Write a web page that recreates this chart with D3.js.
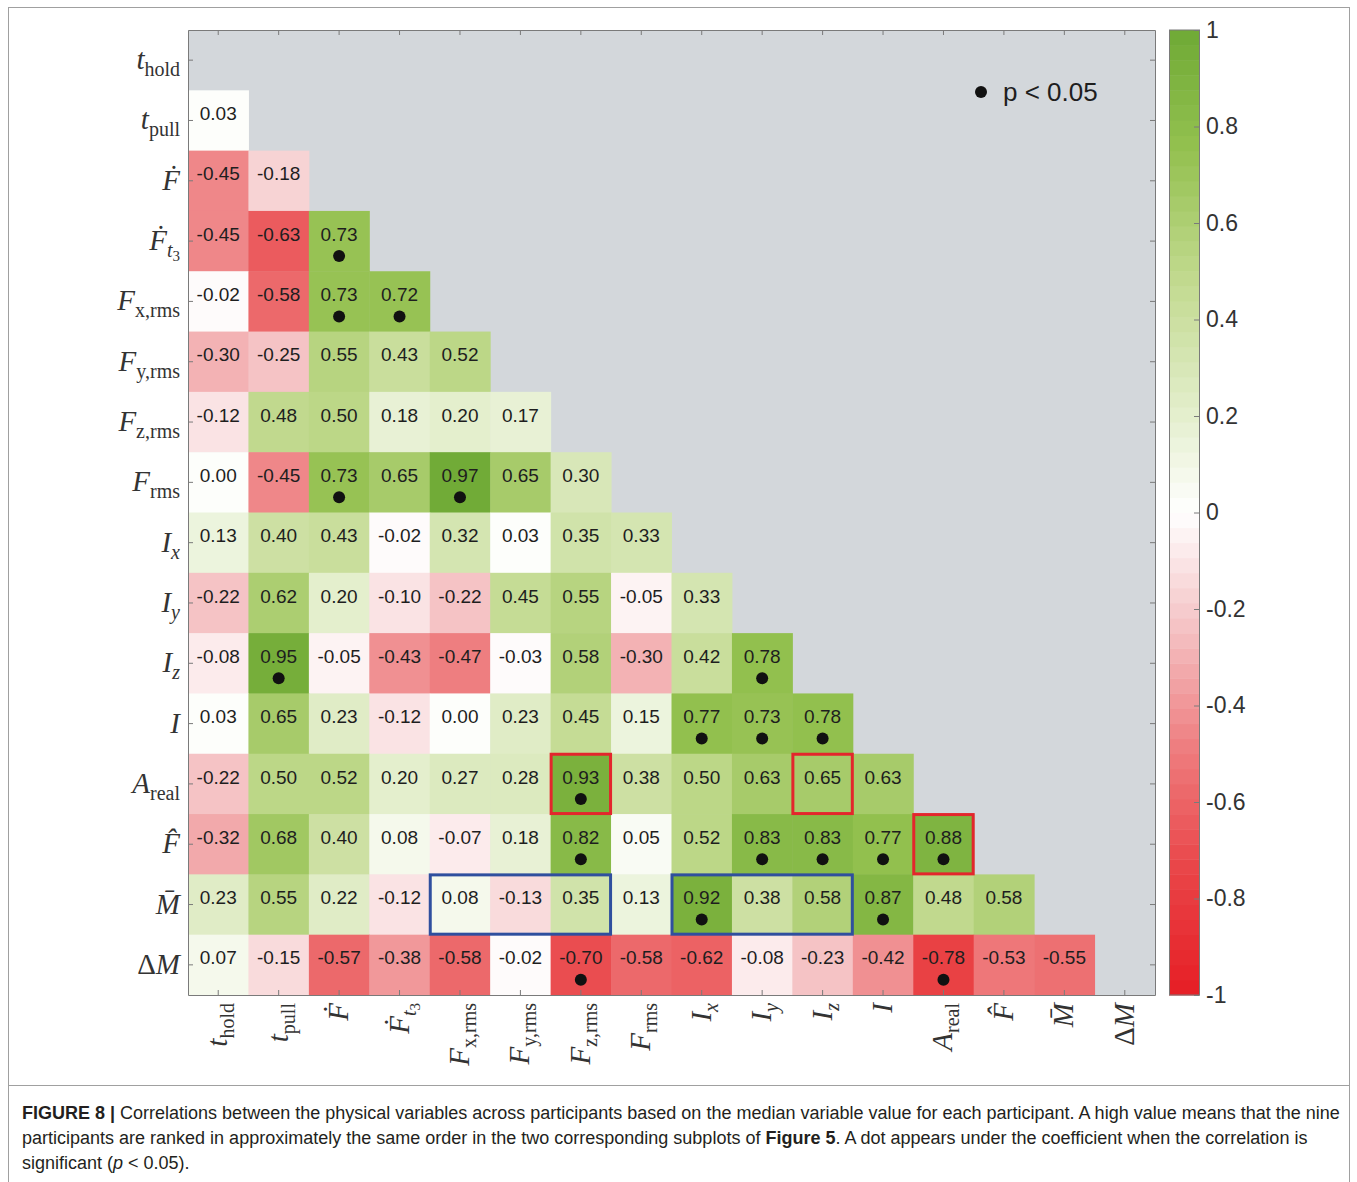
<!DOCTYPE html>
<html>
<head>
<meta charset="utf-8">
<script src="https://cdn.jsdelivr.net/npm/d3@7"></script>
<style>
  body { margin: 0; background: #fff; }
</style>
</head>
<body>
<div id="chart"></div>
<script>
// variable names, rows and columns share the same order
// b = main letter, acc = combining accent, sub = subscript
var varLabels = [
  {b: "t", sub: "hold"},
  {b: "t", sub: "pull"},
  {b: "F", acc: "\u0307"},
  {b: "F", acc: "\u0307", sub: "t", subItal: true, subsub: "3"},
  {b: "F", sub: "x,rms"},
  {b: "F", sub: "y,rms"},
  {b: "F", sub: "z,rms"},
  {b: "F", sub: "rms"},
  {b: "I", sub: "x", subItal: true},
  {b: "I", sub: "y", subItal: true},
  {b: "I", sub: "z", subItal: true},
  {b: "I"},
  {b: "A", sub: "real"},
  {b: "F", acc: "\u0302"},
  {b: "M", acc: "\u0304"},
  {pre: "\u0394", b: "M"}
];

// lower triangle of the correlation matrix (row i has i values)
var corrRows = [
  [],
  [0.03],
  [-0.45, -0.18],
  [-0.45, -0.63, 0.73],
  [-0.02, -0.58, 0.73, 0.72],
  [-0.30, -0.25, 0.55, 0.43, 0.52],
  [-0.12, 0.48, 0.50, 0.18, 0.20, 0.17],
  [0.00, -0.45, 0.73, 0.65, 0.97, 0.65, 0.30],
  [0.13, 0.40, 0.43, -0.02, 0.32, 0.03, 0.35, 0.33],
  [-0.22, 0.62, 0.20, -0.10, -0.22, 0.45, 0.55, -0.05, 0.33],
  [-0.08, 0.95, -0.05, -0.43, -0.47, -0.03, 0.58, -0.30, 0.42, 0.78],
  [0.03, 0.65, 0.23, -0.12, 0.00, 0.23, 0.45, 0.15, 0.77, 0.73, 0.78],
  [-0.22, 0.50, 0.52, 0.20, 0.27, 0.28, 0.93, 0.38, 0.50, 0.63, 0.65, 0.63],
  [-0.32, 0.68, 0.40, 0.08, -0.07, 0.18, 0.82, 0.05, 0.52, 0.83, 0.83, 0.77, 0.88],
  [0.23, 0.55, 0.22, -0.12, 0.08, -0.13, 0.35, 0.13, 0.92, 0.38, 0.58, 0.87, 0.48, 0.58],
  [0.07, -0.15, -0.57, -0.38, -0.58, -0.02, -0.70, -0.58, -0.62, -0.08, -0.23, -0.42, -0.78, -0.53, -0.55]
];

// cells with p < 0.05  [row, col]
var sigCells = [[3,2],[4,2],[4,3],[7,2],[7,4],[10,1],[10,9],[11,8],[11,9],[11,10],
  [12,6],[13,6],[13,9],[13,10],[13,11],[13,12],[14,8],[14,11],[15,6],[15,12]];

// highlighted groups [row, first col, last col]
var redBoxes = [[12,6,6],[12,10,10],[13,12,12]];
var blueBoxes = [[14,4,6],[14,8,10]];

var cbTicks = [1, 0.8, 0.6, 0.4, 0.2, 0, -0.2, -0.4, -0.6, -0.8, -1];

var W = 1357, H = 1182;
var svg = d3.select("#chart").append("svg")
  .attr("width", W).attr("height", H)
  .style("font-family", "'Liberation Sans', Arial, Helvetica, sans-serif");

// ---- colour map (64 steps like matlab) ----
var negColor = d3.scaleLinear().domain([-1, -0.75, -0.5, -0.25, 0])
  .range(["#e61e25", "#e94346", "#ee7a7c", "#f4bfc1", "#ffffff"]);
var posColor = d3.scaleLinear().domain([0, 0.25, 0.5, 0.75, 1])
  .range(["#ffffff", "#deebc2", "#bfd88b", "#94c150", "#6faa35"]);
var nSteps = 64;
function cmap(v) {
  var k = Math.max(0, Math.min(nSteps - 1, Math.floor((v + 1) / 2 * nSteps)));
  var c = -1 + (k + 0.5) * 2 / nSteps;
  return c < 0 ? negColor(c) : posColor(c);
}

// ---- scales ----
var idx = d3.range(varLabels.length);
var x = d3.scaleBand().domain(idx).range([188, 1155]);
var y = d3.scaleBand().domain(idx).range([30, 995]);
var bw = x.bandwidth(), bh = y.bandwidth();

// figure frame
svg.append("rect").attr("x", 8.5).attr("y", 7.5).attr("width", 1341).attr("height", 1200)
  .attr("fill", "none").attr("stroke", "#a0a0a0");
svg.append("line").attr("x1", 8).attr("x2", 1350).attr("y1", 1085.5).attr("y2", 1085.5)
  .attr("stroke", "#a0a0a0");

// plot background
svg.append("rect").attr("x", 188).attr("y", 30).attr("width", 1155 - 188).attr("height", 995 - 30)
  .attr("fill", "#d3d7db");

// flatten cells
var cells = [];
corrRows.forEach(function(row, i) {
  row.forEach(function(v, j) { cells.push({r: i, c: j, v: v}); });
});
var sigSet = {};
sigCells.forEach(function(s) { sigSet[s[0] + "_" + s[1]] = true; });

svg.append("g").selectAll("rect")
  .data(cells).enter().append("rect")
    .attr("x", function(d) { return x(d.c); })
    .attr("y", function(d) { return y(d.r); })
    .attr("width", bw + 0.5)
    .attr("height", bh + 0.5)
    .attr("fill", function(d) { return cmap(d.v); });

svg.append("g").selectAll("text")
  .data(cells).enter().append("text")
    .attr("x", function(d) { return x(d.c) + bw / 2; })
    .attr("y", function(d) { return y(d.r) + bh / 2 - 7; })
    .attr("dy", "0.35em")
    .attr("text-anchor", "middle")
    .attr("font-size", 19)
    .attr("fill", "#1e1e1e")
    .text(function(d) { return d.v.toFixed(2); });

svg.append("g").selectAll("circle")
  .data(cells.filter(function(d) { return sigSet[d.r + "_" + d.c]; }))
  .enter().append("circle")
    .attr("cx", function(d) { return x(d.c) + bw / 2; })
    .attr("cy", function(d) { return y(d.r) + bh / 2 + 15; })
    .attr("r", 6)
    .attr("fill", "#111");

// boxes
function drawBoxes(list, col) {
  svg.append("g").selectAll("rect")
    .data(list).enter().append("rect")
      .attr("x", function(d) { return x(d[1]) + 0.5; })
      .attr("y", function(d) { return y(d[0]) + 0.5; })
      .attr("width", function(d) { return x(d[2]) + bw - x(d[1]) - 1; })
      .attr("height", bh - 1)
      .attr("fill", "none")
      .attr("stroke", col)
      .attr("stroke-width", 3);
}
drawBoxes(redBoxes, "#e3262c");
drawBoxes(blueBoxes, "#2f4f9e");

// axes: ticks pointing inward on all four sides
function styleAxis(g) {
  g.selectAll("path,line").attr("stroke", "#7a7a7a");
}
svg.append("g").attr("transform", "translate(188,0)")
  .call(d3.axisLeft(y).tickSize(-5).tickSizeOuter(0).tickFormat("")).call(styleAxis);
svg.append("g").attr("transform", "translate(1155,0)")
  .call(d3.axisRight(y).tickSize(-5).tickSizeOuter(0).tickFormat("")).call(styleAxis);
svg.append("g").attr("transform", "translate(0,30)")
  .call(d3.axisTop(x).tickSize(-5).tickSizeOuter(0).tickFormat("")).call(styleAxis);
svg.append("g").attr("transform", "translate(0,995)")
  .call(d3.axisBottom(x).tickSize(-5).tickSizeOuter(0).tickFormat("")).call(styleAxis);

// latex-like labels
function mathLabel(t, d) {
  t.attr("font-family", "'Liberation Serif', 'DejaVu Serif', serif")
    .attr("font-size", 29).attr("fill", "#333");
  if (d.pre) t.append("tspan").text(d.pre);
  t.append("tspan").attr("font-style", "italic").text(d.b + (d.acc || ""));
  if (d.sub) {
    t.append("tspan").attr("font-size", 20).attr("dy", 7)
      .attr("font-style", d.subItal ? "italic" : "normal").text(d.sub);
    if (d.subsub) t.append("tspan").attr("font-size", 15).attr("dy", 4).text(d.subsub);
  }
}

svg.append("g").selectAll("text")
  .data(varLabels).enter().append("text")
    .attr("x", 180)
    .attr("y", function(d, i) { return y(i) + bh / 2 + 9; })
    .attr("text-anchor", "end")
    .each(function(d) { mathLabel(d3.select(this), d); });

svg.append("g").selectAll("g")
  .data(varLabels).enter().append("g")
    .attr("transform", function(d, i) { return "translate(" + (x(i) + bw / 2 + 9) + ",1003) rotate(-90)"; })
  .append("text")
    .attr("text-anchor", "end")
    .each(function(d) { mathLabel(d3.select(this), d); });

// legend
svg.append("circle").attr("cx", 981).attr("cy", 92).attr("r", 6).attr("fill", "#111");
svg.append("text").attr("x", 1003).attr("y", 101).attr("font-size", 26).attr("fill", "#1e1e1e")
  .text("p < 0.05");

// ---- colour bar ----
var cbX = 1169, cbW = 30;
var cbScale = d3.scaleLinear().domain([-1, 1]).range([995, 30]);
var steps = d3.range(nSteps).map(function(k) { return -1 + k * 2 / nSteps; });
svg.append("g").selectAll("rect")
  .data(steps).enter().append("rect")
    .attr("x", cbX)
    .attr("y", function(d) { return cbScale(d + 2 / nSteps); })
    .attr("width", cbW)
    .attr("height", cbScale(-1) - cbScale(-1 + 2 / nSteps) + 0.5)
    .attr("fill", function(d) { return cmap(d + 1 / nSteps); });
svg.append("g").attr("transform", "translate(" + (cbX + cbW) + ",0)")
  .call(d3.axisRight(cbScale).tickValues(cbTicks).tickSize(-5).tickSizeOuter(0)
    .tickFormat(function(d) { return d3.format("")(d).replace("\u2212", "-"); }))
  .call(function(g) {
    g.selectAll("path,line").attr("stroke", "#7a7a7a");
    g.selectAll("text").attr("x", 7).attr("font-size", 23).attr("fill", "#333")
      .attr("font-family", "'Liberation Sans', Arial, sans-serif");
  });
svg.append("rect").attr("x", cbX + 0.5).attr("y", 30).attr("width", cbW).attr("height", 965)
  .attr("fill", "none").attr("stroke", "#7a7a7a");

// ---- caption ----
var capLines = [
  [{t: "FIGURE 8 | ", b: true}, {t: "Correlations between the physical variables across participants based on the median variable value for each participant. A high value means that the nine"}],
  [{t: "participants are ranked in approximately the same order in the two corresponding subplots of "}, {t: "Figure 5", b: true}, {t: ". A dot appears under the coefficient when the correlation is"}],
  [{t: "significant ("}, {t: "p", i: true}, {t: " < 0.05)."}]
];
var cap = svg.append("g")
  .style("font-family", "'Liberation Sans Narrow', 'Liberation Sans', Arial, sans-serif")
  .attr("fill", "#231f20");
var capText = cap.selectAll("text").data(capLines).enter().append("text")
  .attr("x", 22)
  .attr("y", function(d, i) { return 1119 + i * 25; })
  .attr("font-size", 18);
capText.each(function(line) {
  var t = d3.select(this);
  line.forEach(function(p) {
    t.append("tspan").attr("font-weight", p.b ? "bold" : null)
      .attr("font-style", p.i ? "italic" : null).text(p.t);
  });
});
// fit the first line to the reference width
var w0 = capText.node().getComputedTextLength();
capText.attr("font-size", 18 * 1318 / w0);
</script>
</body>
</html>
